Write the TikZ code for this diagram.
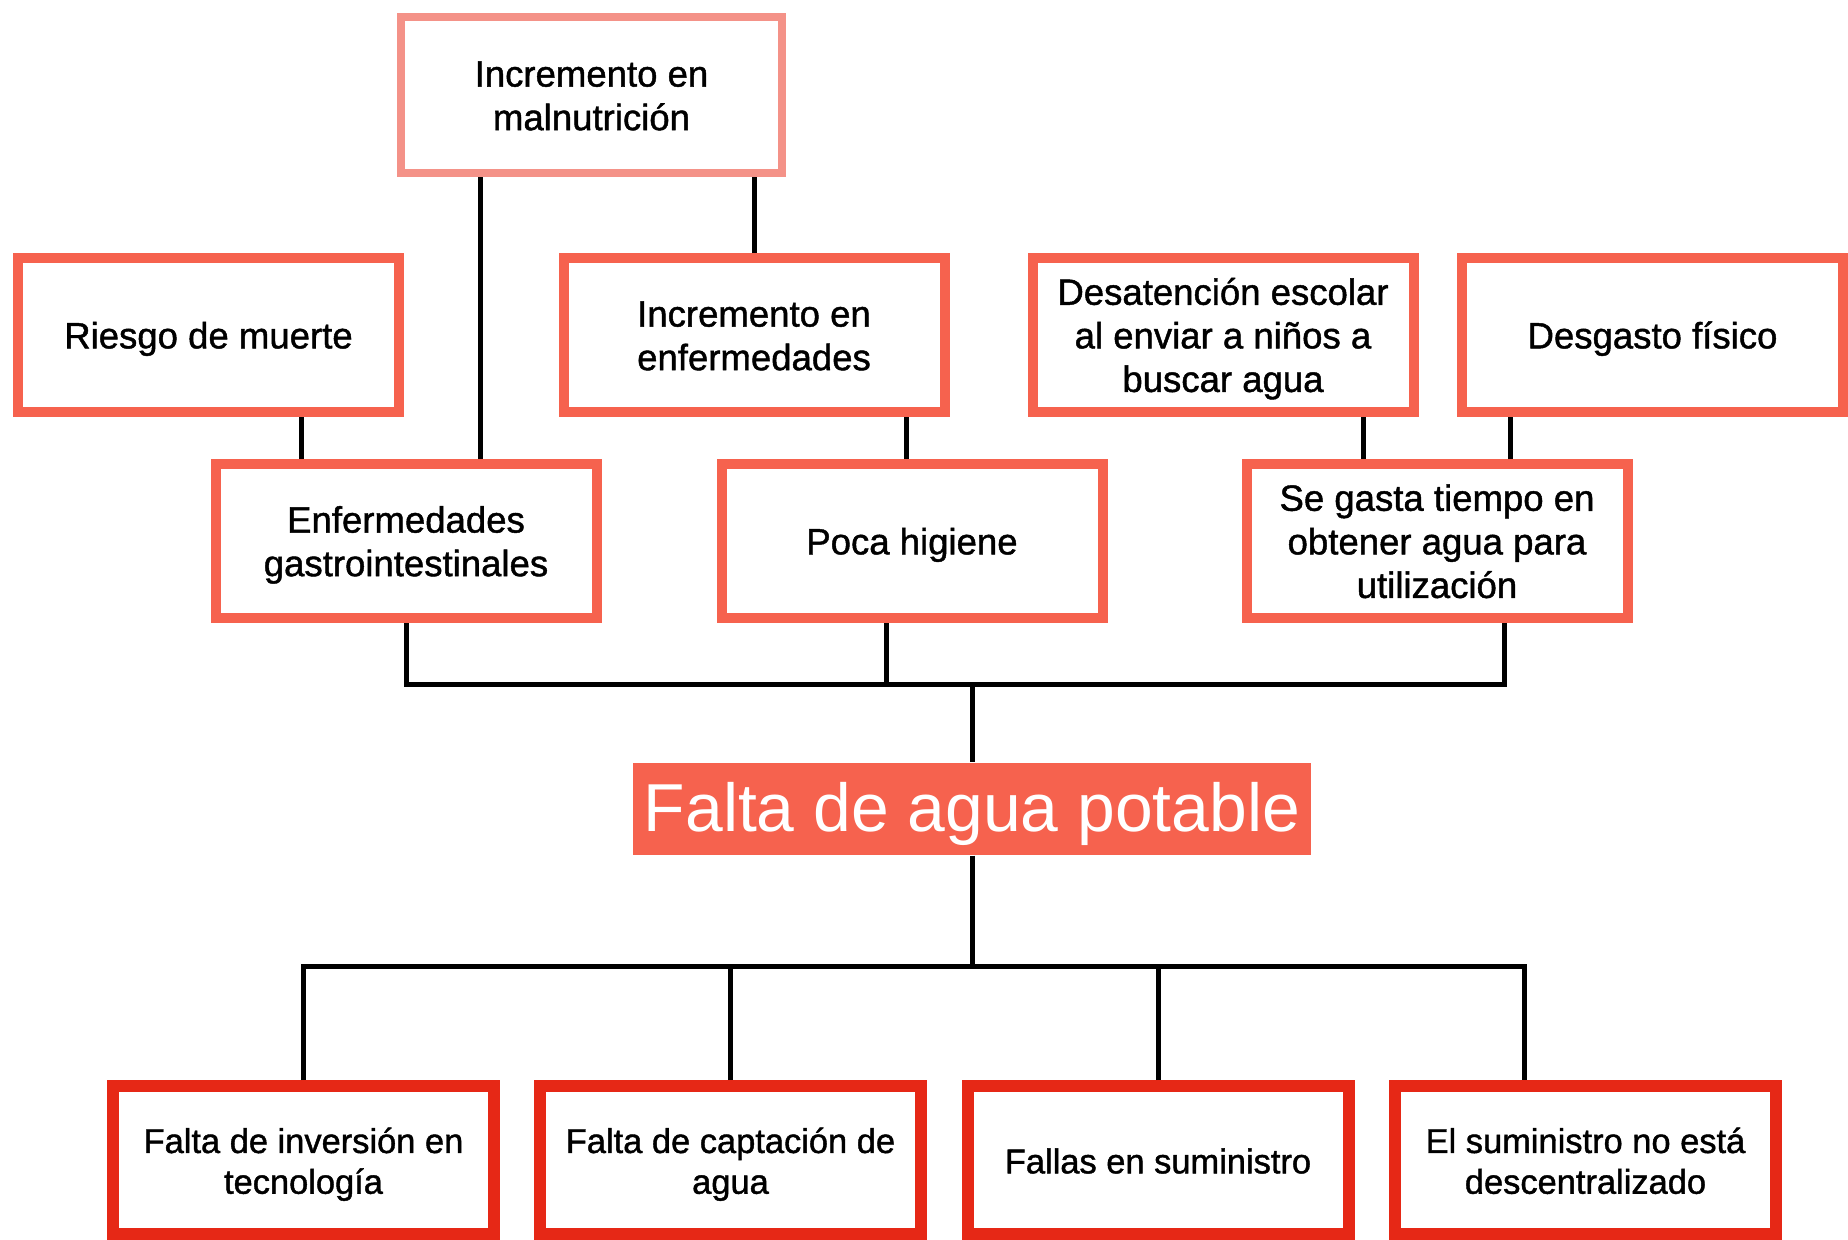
\documentclass[tikz,border=0pt]{standalone}
\usepackage{fontspec}
\setmainfont{Liberation Sans}
\newfontfamily\medio{Liberation Sans}[FakeBold=1.2]
\usepackage{xcolor}
\definecolor{tomate}{RGB}{246,98,78}
\definecolor{salmon}{RGB}{244,146,136}
\definecolor{rojo}{RGB}{230,40,22}
\newcommand{\alto}{\rule{0pt}{9.8pt}}

\begin{document}
\begin{tikzpicture}[x=0.1mm,y=-0.1mm,
  caja/.style={draw=tomate,line width=1mm,minimum width=38.1mm,minimum height=15.4mm,
    inner sep=0pt,align=center,text depth=2.2pt,font=\medio\fontsize{10.4}{12.4}\selectfont},
  cajatop/.style={caja,draw=salmon,line width=0.8mm,minimum height=15.6mm},
  raiz/.style={caja,draw=rojo,line width=1.2mm,minimum height=14.8mm,
    font=\medio\fontsize{9.8}{11.6}\selectfont},
  linea/.style={line width=0.5mm}]
  \useasboundingbox (0,0) rectangle (1848,1240);
  \node[cajatop] (mal) at (591.5,95) {\alto Incremento en\\malnutrición};
  \node[caja] (riesgo) at (208.5,335) {\alto Riesgo de muerte};
  \node[caja] (incenf) at (754,335) {\alto Incremento en\\enfermedades};
  \node[caja] (desat) at (1223,335) {\alto Desatención escolar\\al enviar a niños a\\buscar agua};
  \node[caja] (desg) at (1652.5,335) {\alto Desgasto físico};
  \node[caja] (enf) at (406,541) {\alto Enfermedades\\gastrointestinales};
  \node[caja] (poca) at (912,541) {\alto Poca higiene};
  \node[caja] (gasta) at (1437,541) {\alto Se gasta tiempo en\\obtener agua para\\utilización};
  \node[fill=tomate,text=white,minimum width=67.8mm,minimum height=9.2mm,inner sep=0pt,
    font=\fontsize{19.3}{22}\selectfont] (falta) at (972,809) {\rule{0pt}{17pt}Falta de agua potable};
  \node[raiz] (b1) at (303.5,1160) {\alto Falta de inversión en\\tecnología};
  \node[raiz] (b2) at (730.5,1160) {\alto Falta de captación de\\agua};
  \node[raiz] (b3) at (1158,1160) {\alto Fallas en suministro};
  \node[raiz] (b4) at (1585.5,1160) {\alto El suministro no está\\descentralizado};
  % efectos
  \draw[linea] ([xshift=9.25mm]riesgo.south) -- ([xshift=9.25mm]riesgo.south |- enf.north);
  \draw[linea] ([xshift=-11.15mm]mal.south) -- ([xshift=-11.15mm]mal.south |- enf.north);
  \draw[linea] (incenf.north) -- (incenf.north |- mal.south);
  \draw[linea] ([xshift=-0.6mm]poca.north) -- ([xshift=-0.6mm]poca.north |- incenf.south);
  \draw[linea] ([xshift=-7.4mm]gasta.north) -- ([xshift=-7.4mm]gasta.north |- desat.south);
  \draw[linea] ([xshift=7.3mm]gasta.north) -- ([xshift=7.3mm]gasta.north |- desg.south);
  \coordinate (bus1) at ([yshift=7.8mm]falta.north);
  \draw[linea] (enf.south) |- (bus1) -| ([xshift=6.7mm]gasta.south);
  \draw[linea] ([xshift=-2.6mm]poca.south) -- ([xshift=-2.6mm]poca.south |- bus1);
  \draw[linea] (bus1) -- (falta.north);
  % causas
  \coordinate (bus2) at ([yshift=-11.1mm]falta.south);
  \draw[linea] (falta.south) -- (bus2);
  \draw[linea] (b1.north) |- (bus2) -| ([xshift=-6.15mm]b4.north);
  \foreach \n in {b2,b3}
    \draw[linea] (\n.north) -- (\n.north |- bus2);
\end{tikzpicture}
\end{document}
